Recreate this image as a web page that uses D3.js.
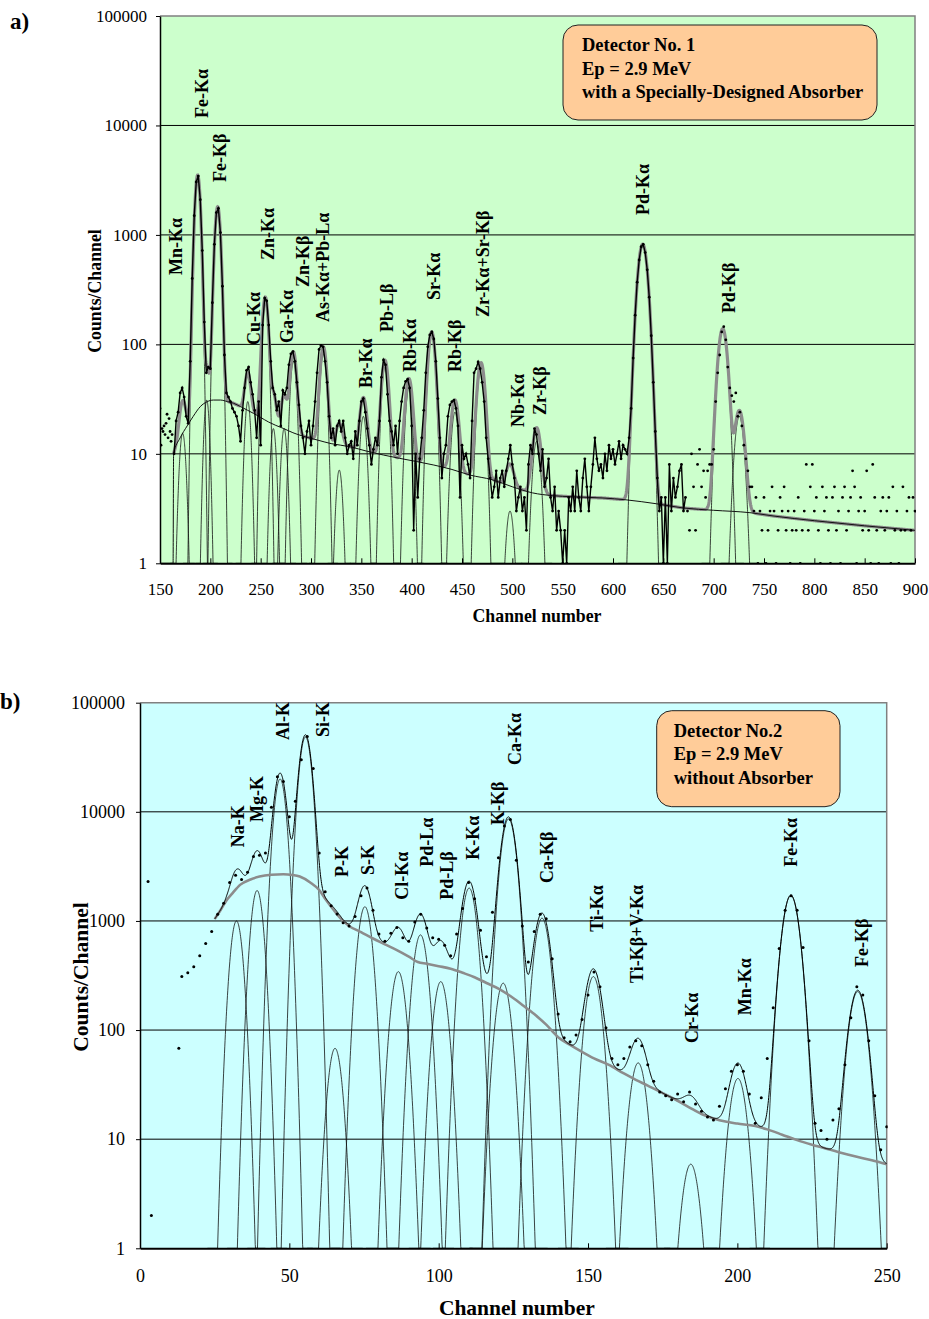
<!DOCTYPE html>
<html>
<head>
<meta charset="utf-8">
<script src="https://cdn.jsdelivr.net/npm/d3@7"></script>
<style>
  body { margin: 0; background: #fff; }
  text { font-family: "Liberation Serif", "Times New Roman", serif; }
</style>
</head>
<body>
<svg id="chart" width="929" height="1319"></svg>
<script>
// ---------- panel a) Detector No. 1 ----------
// scattered points before the fitted region, one channel apart
var aPreStart = 150;
var aPreCounts = [26,12,17,16,18,15,19,23,14,21,16,13,15];

// joined points, every 2nd channel
var aStep = 2;
var aMainStart = 164;
var aMainCounts = [
  10,20,24,36,40,33,22,19,70,400,
  1500,3050,3450,2100,720,160,55,62,60,240,
  820,1600,1750,1050,340,80,36,33,30,26,
  24,22,18,13,25,40,58,62,45,35,
  25,14,30,12,150,265,250,150,70,40,
  35,25,30,18,38,35,40,65,82,86,
  70,45,28,18,14,10,16,20,12,18,
  30,55,90,98,95,70,45,22,14,17,
  12,18,20,16,20,14,10,12,13,9,
  16,12,20,30,32,24,17,12,8,11,
  14,12,20,50,72,65,35,20,16,12,
  18,10,20,30,40,46,48,40,18,2,
  10,4,9,14,25,55,95,122,130,112,
  70,32,14,6,10,12,22,28,30,31,
  26,18,4,12,9,10,8,6,20,55,
  60,69,60,45,30,14,9,6,4,5,
  7,4,6,7,5,7,9,12,8,6,
  3,4,5,3,4,2,8,12,10,17,
  15,10,7,11,5,6,9,4,3,5,
  2,3,2,1,2,1,4,3,5,3,
  7,4,3,6,9,5,3,5,8,14,
  9,7,8,6,10,7,12,9,11,8,
  10,13,9,12,11,10,14,26,75,185,
  370,590,780,820,690,480,270,120,45,16,
  6,3,4,1,4,1,8,3,6,4,
  5,7,8,3,4
];

// scattered points after the joined part, every 2nd channel
var aTailStart = 674;
var aTailCounts = [
  3,2,10,5,2,8,11,5,7,4,
  7,8,8,11,30,55,80,130,145,110,
  62,40,34,30,36,22,24,18,12,9,
  7,5,5,3,4,1,3,2,4,1,
  2,3,5,3,1,2,4,3,5,2,
  3,1,2,3,2,4,1,2,3,8,
  2,5,8,3,4,2,1,5,3,4,
  2,1,4,5,2,3,1,4,5,2,
  3,4,7,5,1,3,4,2,3,7,
  2,1,8,4,2,1,3,4,2,3,
  4,1,5,2,3,1,2,5,2,3,
  4,2,4,3
];

// background (thin black curve): [channel, counts]
var aBackground = [
  [150,1],[163,1],[163.5,10],[170,14],[177,18],[183,22],[190,27],[197,30],[203,31],
  [210,31],[217,30],[223,29],[230,27],[237,25],[243,23.4],[250,21.5],[258,19.5],
  [265,18.2],[273,17],[282,15.6],[290,14.7],[306,13.4],[320,12.4],[339,11.6],
  [355,10.6],[372,9.75],[388,9.1],[405,8.5],[422,7.9],[440,7.2],[458,6.4],[480,5.8],
  [500,5.0],[520,4.4],[540,4.15],[560,4.05],[590,3.95],[613,3.8],[643,3.5],[670,3.2],
  [700,3.05],[736,2.9],[760,2.7],[800,2.45],[850,2.2],[900,2.0]
];

// fitted peaks: [channel, height, sigma in channels]
var aPeaks = [
  [172.5,15.4,2.8],[187.4,3500,2.4],[196.4,31,2.4],[207.3,1780,2.5],[237.2,30,2.6],
  [254.6,250,2.6],[262.6,17,2.6],[273.3,17,2.7],[282.5,70,2.8],[312.3,82,2.9],
  [328.1,7.1,2.9],[352,22,3.0],[373.5,62,3.0],[397.3,40,3.1],[419.9,122,3.2],
  [443,24,3.3],[468.9,62,3.4],[497.7,3.0,3.5],[524.2,13,3.6],[629.5,820,4.3],
  [709,136,4.1],[725.5,22,4.1]
];

// peak names: [text, channel, counts at the foot of the text]
var aLabels = [
  ["Mn-K\u03b1",165.9,430],["Fe-K\u03b1",191.7,11700],["Fe-K\u03b2",209.6,3040],
  ["Cu-K\u03b1",243.4,98.6],["Zn-K\u03b1",257.3,589],["Ga-K\u03b1",276.2,103],
  ["Zn-K\u03b2",292.1,334],["As-K\u03b1+Pb-L\u03b1",311.9,160],["Br-K\u03b1",354.6,40],
  ["Pb-L\u03b2",375.5,130],["Rb-K\u03b1",398.3,56],["Sr-K\u03b1",422.2,254],
  ["Rb-K\u03b2",443,56],["Zr-K\u03b1+Sr-K\u03b2",470.9,178],["Nb-K\u03b1",505.6,17.6],
  ["Zr-K\u03b2",527.5,22.6],["Pd-K\u03b1",629.8,1518],["Pd-K\u03b2",715.1,193]
];
var aTicksX = [150,200,250,300,350,400,450,500,550,600,650,700,750,800,850,900];
var aNote = ["Detector No. 1", "Ep = 2.9 MeV", "with a Specially-Designed Absorber"];

// ---------- panel b) Detector No. 2 ----------
var bStart = 14, bStep = 2;
var bCounts = [
  310,335,380,480,620,800,1150,1450,2250,2620,
  2400,2800,3900,4000,4200,11000,21000,19000,9000,12500,
  30000,49000,25000,4200,1850,1380,1160,960,900,1100,
  1700,2000,1250,760,650,770,870,700,650,980,
  1150,860,700,680,600,480,760,1300,2250,1600,
  820,470,1200,3800,7400,8500,3600,900,420,800,
  1150,1050,450,140,85,78,90,125,210,340,
  250,105,55,48,55,70,80,72,48,34,
  27,25,23,26,22,27,21,18,16,15,
  20,29,42,48,42,26,14,24,55,160,
  560,1250,1700,1250,570,80,14,12,10,15,
  19,48,130,250,210,80,25,8,13
];
var bStray = [[2.7,2300],[3.8,2],[13,68]];

var bBackground = [
  [25,1040],[27,1260],[29,1550],[31,1800],[33.5,2140],[37,2400],[40,2550],[44,2650],
  [48,2680],[51,2640],[53.5,2550],[57,2250],[60,1920],[62,1600],[64,1350],[66,1150],
  [68,1000],[70,900],[74,790],[78,690],[82,610],[86,540],[90,470],[93,420],[96,405],
  [100,385],[104,365],[108,335],[112,305],[116,270],[120,240],[124,205],[128,170],
  [132,140],[136,112],[140,86],[144,73],[148,63],[152,55],[157,48],[162,40],[166,35],
  [170,31],[175,26.4],[180,22.5],[184,19.5],[188,17],[192,15.5],[196,14.5],[200,13.9],
  [206,13.2],[210,12.3],[215,11],[220,9.8],[225,8.9],[229,8.3],[234,7.6],[240,6.9],
  [245,6.4],[250,5.9]
];

var bPeaks = [
  [32.3,1000,1.7],[39.2,1900,1.7],[46.9,20000,1.7],[55.4,48500,1.75],[65.3,68,1.9],
  [75.3,1350,1.95],[86.5,343,2.0],[93.9,745,2.0],[100.7,278,2.0],[110.2,2000,2.05],
  [121.6,269,2.1],[123.4,8600,2.1],[134.6,1060,2.15],[151.8,309,2.2],[166.8,50,2.25],
  [184.4,5.9,2.3],[200.2,36,2.3],[217.9,1710,2.35],[240.3,225,2.4]
];

var bLabels = [
  ["Na-K",32.8,4740],["Mg-K",39.2,8080],["Al-K",47.9,45600],["Si-K",61.2,48600],
  ["P-K",67.6,2530],["S-K",76.3,2640],["Cl-K\u03b1",87.7,1560],["Pd-L\u03b1",96.1,3130],
  ["Pd-L\u03b2",102.7,1560],["K-K\u03b1",111.4,3630],["K-K\u03b2",119.8,7590],
  ["Ca-K\u03b1",125.5,26900],["Ca-K\u03b2",136.2,2230],["Ti-K\u03b1",152.9,794],
  ["Ti-K\u03b2+V-K\u03b1",166.3,270],["Cr-K\u03b1",184.7,76],["Mn-K\u03b1",202.5,137],
  ["Fe-K\u03b1",217.9,3130],["Fe-K\u03b2",241.6,379]
];
var bTicksX = [0,50,100,150,200,250];
var bNote = ["Detector No.2", "Ep = 2.9 MeV", "without Absorber"];

var yTicks = [1,10,100,1000,10000,100000];

// ---------- helpers ----------
var svg = d3.select("#chart");

function toPoints(start, step, counts) {
  return counts.map(function(c, i) { return [start + i * step, c]; });
}

// background value at a channel, straight in log between listed points
function bgAt(bg, ch) {
  if (ch <= bg[0][0]) return bg[0][1];
  for (var i = 1; i < bg.length; i++) {
    if (ch <= bg[i][0]) {
      var a = bg[i-1], b = bg[i];
      var t = (ch - a[0]) / (b[0] - a[0]);
      return Math.exp(Math.log(a[1]) + t * (Math.log(b[1]) - Math.log(a[1])));
    }
  }
  return bg[bg.length-1][1];
}

function peakAt(pk, ch) {
  return pk[1] * Math.exp(-(ch - pk[0]) * (ch - pk[0]) / (2 * pk[2] * pk[2]));
}

function drawPanel(p) {
  var x = d3.scaleLinear().domain(p.xDomain).range([p.left, p.right]);
  var y = d3.scaleLog().domain([1, 100000]).range([p.bottom, p.top]);
  var g = svg.append("g");

  g.append("rect")
    .attr("x", p.left).attr("y", p.top)
    .attr("width", p.right - p.left).attr("height", p.bottom - p.top)
    .attr("fill", p.fill);

  // decade grid
  g.selectAll(".grid").data([10,100,1000,10000]).join("line")
    .attr("x1", p.left).attr("x2", p.right)
    .attr("y1", function(d) { return y(d); }).attr("y2", function(d) { return y(d); })
    .attr("stroke", "#000").attr("stroke-width", 1);

  // top and right frame
  g.append("path")
    .attr("d", "M" + p.left + "," + p.top + "H" + p.right + "V" + p.bottom)
    .attr("fill", "none").attr("stroke", "#808080").attr("stroke-width", 1.5);

  var clipId = "clip" + p.id;
  svg.append("clipPath").attr("id", clipId).append("rect")
    .attr("x", p.left).attr("y", p.top - 1)
    .attr("width", p.right - p.left + 1).attr("height", p.bottom - p.top + 1.5);
  var plot = g.append("g").attr("clip-path", "url(#" + clipId + ")");

  var yv = function(v) { return y(Math.max(1, v)); };
  var line = d3.line().x(function(d) { return x(d[0]); }).y(function(d) { return yv(d[1]); });

  // fitted single peaks
  p.peaks.forEach(function(pk) {
    var reach = pk[2] * Math.sqrt(2 * Math.log(Math.max(pk[1], 1.01))) + 2 * pk[2];
    var pts = d3.range(pk[0] - reach, pk[0] + reach, 0.1).map(function(ch) { return [ch, peakAt(pk, ch)]; });
    plot.append("path").attr("d", line(pts))
      .attr("fill", "none").attr("stroke", "#111").attr("stroke-width", 0.8);
  });

  // background curve and the total fit
  var fitPts = d3.range(p.fitFrom, p.xDomain[1] + 0.01, p.fitStep).map(function(ch) {
    var v = bgAt(p.background, ch);
    p.peaks.forEach(function(pk) { v += peakAt(pk, ch); });
    return [ch, v];
  });
  var bgLine = d3.line().x(function(d) { return x(d[0]); }).y(function(d) { return yv(d[1]); })
    .curve(d3.curveMonotoneX);

  if (p.id === "a") {
    plot.append("path").attr("d", line(fitPts))
      .attr("fill", "none").attr("stroke", "#8c8c8c").attr("stroke-width", 3.2);
    plot.append("path").attr("d", bgLine(p.background))
      .attr("fill", "none").attr("stroke", "#111").attr("stroke-width", 1);
    // joined data
    plot.append("path").attr("d", line(p.joined))
      .attr("fill", "none").attr("stroke", "#000").attr("stroke-width", 1.4);
  } else {
    plot.append("path").attr("d", bgLine(p.background))
      .attr("fill", "none").attr("stroke", "#8c8c8c").attr("stroke-width", 2.6);
    plot.append("path").attr("d", line(fitPts))
      .attr("fill", "none").attr("stroke", "#000").attr("stroke-width", 1);
  }

  // data markers
  plot.selectAll(".dot").data(p.dots).join("circle")
    .attr("cx", function(d) { return x(d[0]); })
    .attr("cy", function(d) { return yv(d[1]); })
    .attr("r", p.dotR).attr("fill", "#000");

  // axes
  var ya = g.append("g").attr("transform", "translate(" + p.left + ",0)")
    .call(d3.axisLeft(y).tickValues(yTicks).tickFormat(d3.format("d"))
      .tickSizeInner(4).tickSizeOuter(0).tickPadding(p.yPad));
  ya.select(".domain").attr("stroke", "#000").attr("stroke-width", 1.5);
  ya.selectAll("text").attr("font-family", "Liberation Serif, serif")
    .attr("font-size", p.tickFont).attr("fill", "#000");

  var xa = g.append("g").attr("transform", "translate(0," + p.bottom + ")")
    .call(d3.axisBottom(x).tickValues(p.ticksX).tickFormat(d3.format("d"))
      .tickSizeInner(-5).tickSizeOuter(0).tickPadding(p.xPad));
  xa.select(".domain").attr("stroke", "#000").attr("stroke-width", 2);
  xa.selectAll("text").attr("font-family", "Liberation Serif, serif")
    .attr("font-size", p.tickFont).attr("fill", "#000");

  // peak names
  g.selectAll(".plabel").data(p.labels).join("text")
    .attr("transform", function(d) { return "translate(" + x(d[1]) + "," + y(d[2]) + ") rotate(-90)"; })
    .attr("dy", "0.35em")
    .attr("font-size", 18).attr("font-weight", "bold")
    .text(function(d) { return d[0]; });

  // note box
  var nb = p.note;
  g.append("rect")
    .attr("x", nb.x).attr("y", nb.y).attr("width", nb.w).attr("height", nb.h)
    .attr("rx", 15).attr("ry", 15)
    .attr("fill", "#ffcc99").attr("stroke", "#222").attr("stroke-width", 1);
  g.selectAll(".note").data(p.noteText).join("text")
    .attr("x", nb.x + nb.pad)
    .attr("y", function(d, i) { return nb.y + nb.first + i * 23.5; })
    .attr("font-size", 18.5).attr("font-weight", "bold")
    .text(function(d) { return d; });

  // axis titles and panel letter
  g.append("text")
    .attr("x", (p.left + p.right) / 2 + p.xTitleShift).attr("y", p.xTitleY)
    .attr("text-anchor", "middle").attr("font-weight", "bold")
    .attr("font-size", p.titleFont).text("Channel number");
  g.append("text")
    .attr("transform", "translate(" + p.yTitleX + "," + p.yTitleY + ") rotate(-90)")
    .attr("text-anchor", "middle").attr("dy", "0.35em").attr("font-weight", "bold")
    .attr("font-size", p.titleFont).text("Counts/Channel");
  g.append("text")
    .attr("x", p.letterX).attr("y", p.letterY)
    .attr("font-weight", "bold").attr("font-size", 23).text(p.letter);
}

// ---------- panel a ----------
drawPanel({
  id: "a", letter: "a)", letterX: 10, letterY: 29,
  left: 160, right: 915, top: 16, bottom: 563.3,
  xDomain: [150, 900], ticksX: aTicksX, fill: "#ccffcc",
  background: aBackground, peaks: aPeaks, labels: aLabels,
  fitFrom: 163.5, fitStep: 0.25,
  joined: toPoints(aMainStart, aStep, aMainCounts),
  dots: toPoints(aPreStart, 1, aPreCounts)
    .concat(toPoints(aMainStart, aStep, aMainCounts))
    .concat(toPoints(aTailStart, aStep, aTailCounts)),
  dotR: 1.4,
  tickFont: 17, yPad: 9, xPad: 20,
  titleFont: 17.8, xTitleShift: -0.5, xTitleY: 622,
  yTitleX: 95, yTitleY: 291,
  note: { x: 563, y: 25, w: 314, h: 95, pad: 19, first: 26 },
  noteText: aNote
});

// ---------- panel b ----------
drawPanel({
  id: "b", letter: "b)", letterX: 0, letterY: 709,
  left: 140, right: 886.7, top: 702.7, bottom: 1248.3,
  xDomain: [0, 250], ticksX: bTicksX, fill: "#ccffff",
  background: bBackground, peaks: bPeaks, labels: bLabels,
  fitFrom: 25, fitStep: 0.1,
  joined: [],
  dots: bStray.concat(toPoints(bStart, bStep, bCounts)),
  dotR: 1.5,
  tickFont: 18, yPad: 11, xPad: 21,
  titleFont: 21.5, xTitleShift: 3.5, xTitleY: 1315,
  yTitleX: 80, yTitleY: 977,
  note: { x: 656.7, y: 710.7, w: 183.3, h: 96, pad: 17, first: 26 },
  noteText: bNote
});
</script>
</body>
</html>
